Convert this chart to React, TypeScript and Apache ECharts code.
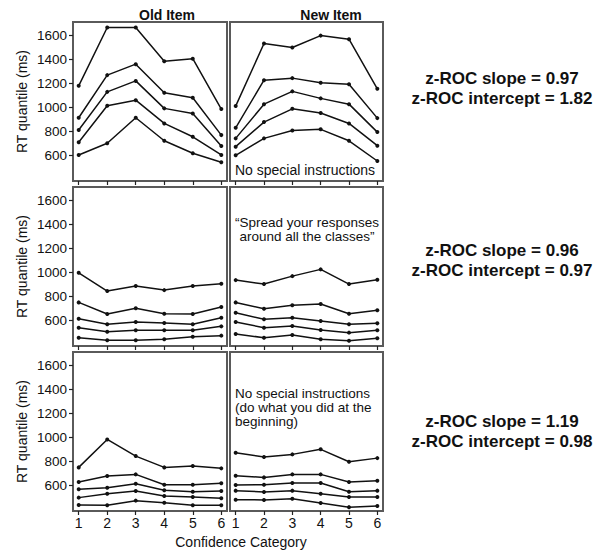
import React, { useEffect, useRef } from "react";
import * as echarts from "echarts";

const categories = [1, 2, 3, 4, 5, 6];
const yTickValues = [600, 800, 1000, 1200, 1400, 1600];
const columnTitles = ["Old Item", "New Item"];

// RT quantile lines (top = slowest quantile), per panel
const row1Old = [
  [1180, 1664, 1664, 1385, 1405, 987],
  [915, 1269, 1360, 1122, 1081, 771],
  [813, 1130, 1221, 993, 951, 680],
  [711, 1014, 1061, 868, 757, 606],
  [606, 703, 915, 724, 620, 545],
];
const row1New = [
  [1012, 1531, 1498, 1597, 1567, 1155],
  [832, 1227, 1244, 1205, 1194, 912],
  [744, 1028, 1134, 1076, 1028, 796],
  [675, 879, 989, 954, 868, 683],
  [603, 744, 810, 819, 724, 556],
];
const row2Old = [
  [998, 846, 888, 854, 888, 907],
  [752, 656, 703, 658, 656, 714],
  [617, 570, 589, 581, 570, 625],
  [542, 509, 520, 520, 520, 553],
  [459, 438, 438, 446, 467, 476],
];
const row2New = [
  [937, 904, 970, 1026, 904, 940],
  [752, 699, 728, 738, 658, 686],
  [666, 612, 625, 598, 570, 578],
  [589, 542, 556, 523, 501, 520],
  [490, 459, 482, 446, 434, 454],
];
const row3Old = [
  [752, 984, 846, 752, 763, 744],
  [631, 680, 694, 608, 608, 620],
  [570, 583, 617, 562, 550, 556],
  [501, 534, 556, 515, 506, 496],
  [440, 438, 476, 459, 438, 438],
];
const row3New = [
  [873, 838, 860, 902, 799, 829],
  [683, 669, 694, 694, 631, 641],
  [606, 608, 622, 622, 550, 559],
  [559, 548, 559, 534, 506, 506],
  [484, 482, 492, 457, 422, 432],
];

const rowSlopes = ["0.97", "0.96", "1.19"];
const rowIntercepts = ["1.82", "0.97", "0.98"];
const panelNotes = [
  "No special instructions",
  "\u201CSpread your responses\naround all the classes\u201D",
  "No special instructions\n(do what you did at the\nbeginning)",
];

const FONT = "'Liberation Sans', Arial, Helvetica, sans-serif";

export default function App() {
  const ref = useRef<HTMLDivElement>(null);

  useEffect(() => {
    if (!ref.current) return;
    const chart = echarts.init(ref.current, null, { renderer: "svg" });

    const panels = [
      [row1Old, row1New],
      [row2Old, row2New],
      [row3Old, row3New],
    ];
    const rowTops = [22, 187, 352];
    const colLefts = [73, 230];
    const colWidths = [154, 153];
    const panelH = 159;

    const grids: any[] = [];
    const xAxes: any[] = [];
    const yAxes: any[] = [];
    const series: any[] = [];
    let idx = 0;
    panels.forEach((row, r) => {
      row.forEach((lines, c) => {
        grids.push({
          left: colLefts[c],
          top: rowTops[r],
          width: colWidths[c],
          height: panelH,
          show: true,
          borderColor: "#5a5a5a",
          borderWidth: 2,
          backgroundColor: "#fff",
        });
        xAxes.push({
          type: "value",
          gridIndex: idx,
          min: 0.8,
          max: 6.2,
          axisLine: { show: false },
          splitLine: { show: false },
          axisTick: {
            show: true,
            inside: false,
            length: 4,
            customValues: categories,
            lineStyle: { color: "#222", width: 1.2 },
          },
          axisLabel: {
            show: r === 2,
            customValues: categories,
            formatter: (v: number) => String(v),
            margin: 5,
            fontSize: 14,
            color: "#111",
            fontFamily: FONT,
          },
        });
        yAxes.push({
          type: "value",
          gridIndex: idx,
          min: 390,
          max: 1710,
          axisLine: { show: false },
          splitLine: { show: false },
          name: c === 0 ? "RT quantile (ms)" : "",
          nameLocation: "middle",
          nameGap: 44,
          nameTextStyle: { fontSize: 14, color: "#111", fontFamily: FONT },
          axisTick: {
            show: c === 0,
            length: 4,
            customValues: yTickValues,
            lineStyle: { color: "#222", width: 1.2 },
          },
          axisLabel: {
            show: c === 0,
            customValues: yTickValues,
            formatter: (v: number) => String(v),
            margin: 6,
            fontSize: 13.5,
            color: "#111",
            fontFamily: FONT,
          },
        });
        lines.forEach((vals) => {
          series.push({
            type: "line",
            xAxisIndex: idx,
            yAxisIndex: idx,
            data: vals.map((v, i) => [categories[i], v]),
            symbol: "circle",
            symbolSize: 4,
            lineStyle: { color: "#111", width: 1.5 },
            itemStyle: { color: "#111" },
            silent: true,
          });
        });
        idx++;
      });
    });

    const graphics: any[] = [];
    graphics.push({
      type: "text",
      x: 167,
      y: 15,
      style: { text: columnTitles[0], font: `bold 14px ${FONT}`, fill: "#111", align: "center", verticalAlign: "middle" },
    });
    graphics.push({
      type: "text",
      x: 331,
      y: 15,
      style: { text: columnTitles[1], font: `bold 14px ${FONT}`, fill: "#111", align: "center", verticalAlign: "middle" },
    });
    const statY = [[78, 98], [250, 270], [421, 441]];
    rowSlopes.forEach((s, r) => {
      graphics.push({
        type: "text",
        x: 502,
        y: statY[r][0],
        style: { text: `z-ROC slope = ${s}`, font: `bold 17px ${FONT}`, fill: "#111", align: "center", verticalAlign: "middle" },
      });
      graphics.push({
        type: "text",
        x: 502,
        y: statY[r][1],
        style: { text: `z-ROC intercept = ${rowIntercepts[r]}`, font: `bold 17px ${FONT}`, fill: "#111", align: "center", verticalAlign: "middle" },
      });
    });
    graphics.push({
      type: "text",
      x: 235,
      y: 170,
      style: { text: panelNotes[0], font: `14px ${FONT}`, fill: "#111", align: "left", verticalAlign: "middle" },
    });
    graphics.push({
      type: "text",
      x: 307,
      y: 215,
      style: { text: panelNotes[1], font: `13.5px ${FONT}`, fill: "#111", align: "center", verticalAlign: "top", lineHeight: 14 },
    });
    graphics.push({
      type: "text",
      x: 235,
      y: 386,
      style: { text: panelNotes[2], font: `13.5px ${FONT}`, fill: "#111", align: "left", verticalAlign: "top", lineHeight: 14 },
    });
    graphics.push({
      type: "text",
      x: 241,
      y: 542,
      style: { text: "Confidence Category", font: `14px ${FONT}`, fill: "#111", align: "center", verticalAlign: "middle" },
    });

    chart.setOption({
      animation: false,
      backgroundColor: "#fff",
      grid: grids,
      xAxis: xAxes,
      yAxis: yAxes,
      series,
      graphic: graphics,
    });

    return () => chart.dispose();
  }, []);

  return (
    <div
      ref={ref}
      style={{ position: "fixed", left: 0, top: 0, width: 600, height: 551 }}
    />
  );
}
